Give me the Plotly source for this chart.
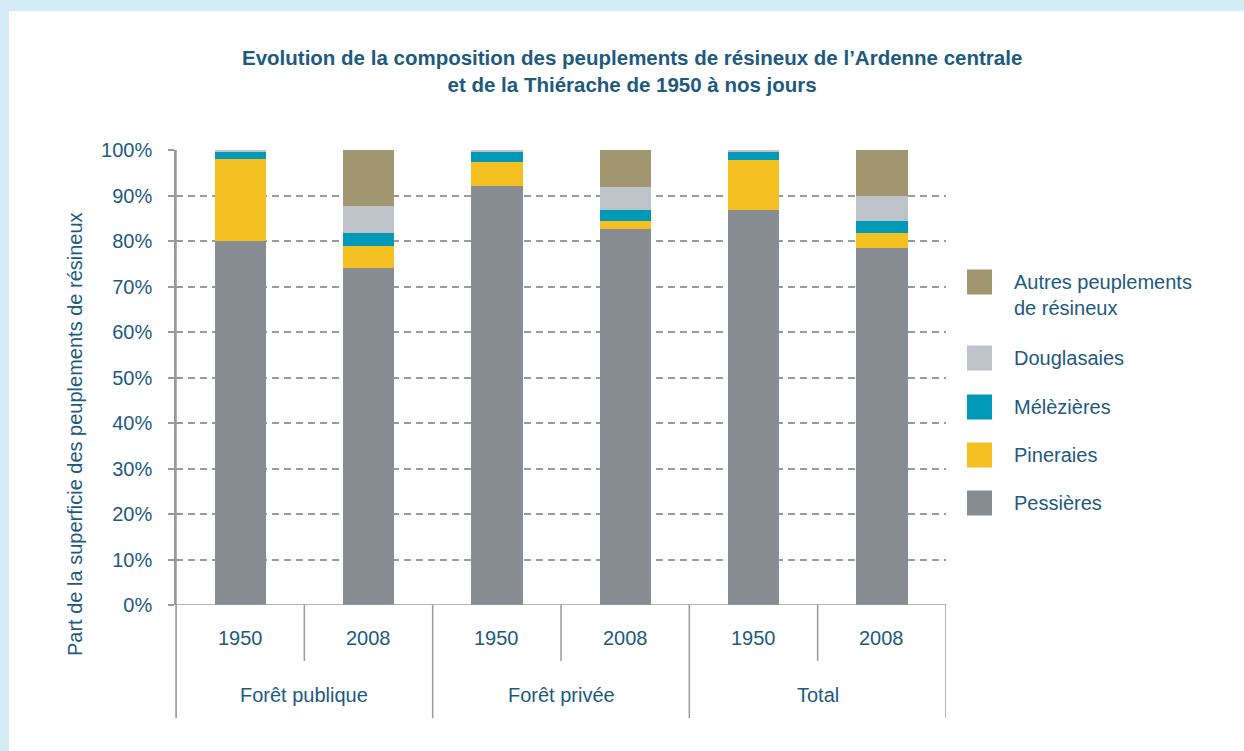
import plotly.graph_objects as go

# Stand composition (% of conifer area)
groups = ["Forêt publique", "Forêt privée", "Total"]
years = ["1950", "2008"]

pessieres = [80.0, 74.0, 92.0, 82.7, 86.9, 78.5]
pineraies = [18.0, 4.9, 5.4, 1.7, 10.8, 3.2]
melezieres = [1.7, 2.8, 2.1, 2.4, 2.0, 2.7]
douglasaies = [0.3, 6.0, 0.5, 5.1, 0.3, 5.5]
autres = [0.0, 12.3, 0.0, 8.1, 0.0, 10.1]

series_names = ["Pessières", "Pineraies", "Mélèzières", "Douglasaies",
                "Autres peuplements<br>de résineux"]
series_values = [pessieres, pineraies, melezieres, douglasaies, autres]
series_colors = ["#878d93", "#f5c022", "#0099b8", "#bec3c9", "#a09670"]

y_ticks = list(range(0, 101, 10))
y_tick_labels = [f"{v}%" for v in y_ticks]

TEXT = "#1d5a7e"
GRID = "#979ba0"
FONT = "Liberation Sans, Arial, sans-serif"
FS = 20

# pixel geometry helpers
W, H = 1244, 751
L, R, T, B = 176, 298, 150, 146
PW, PH = W - L - R, H - T - B


def px_x(px):
    return (px - L) / PW


def px_y(py):
    return (H - B - py) / PH


x_idx = list(range(len(groups) * len(years)))

fig = go.Figure()
for name, vals, col in zip(series_names, series_values, series_colors):
    fig.add_trace(go.Bar(
        x=x_idx, y=vals, name=name, width=0.4,
        marker=dict(color=col, line=dict(width=0)),
        showlegend=False,
    ))

shapes = []
annotations = []

# light blue frame on top and left
shapes.append(dict(type="rect", xref="paper", yref="paper",
                   x0=px_x(0), x1=px_x(W), y0=px_y(11), y1=px_y(0),
                   fillcolor="#d4edf4", line=dict(width=0), layer="above"))
shapes.append(dict(type="rect", xref="paper", yref="paper",
                   x0=px_x(0), x1=px_x(9), y0=px_y(H), y1=px_y(0),
                   fillcolor="#d4edf4", line=dict(width=0), layer="above"))

# baseline
shapes.append(dict(type="line", xref="paper", yref="y",
                   x0=px_x(170), x1=1, y0=0, y1=0,
                   line=dict(color=GRID, width=1.5), layer="above"))

# category dividers
short_y = px_y(661)
long_y = px_y(718)
n = len(x_idx)
for i in range(n + 1):
    xv = i - 0.5
    bottom = long_y if i % len(years) == 0 else short_y
    shapes.append(dict(type="line", xref="x", yref="paper",
                       x0=xv, x1=xv, y0=0, y1=bottom,
                       line=dict(color=GRID, width=1.5)))
# y axis line extended down through the label rows
shapes.append(dict(type="line", xref="paper", yref="paper",
                   x0=0, x1=0, y0=long_y, y1=1,
                   line=dict(color=GRID, width=1.5), layer="above"))

# year and group labels
for gi, g in enumerate(groups):
    for yi, yr in enumerate(years):
        annotations.append(dict(x=gi * len(years) + yi, y=px_y(638),
                                xref="x", yref="paper", text=yr,
                                showarrow=False, xanchor="center",
                                yanchor="middle",
                                font=dict(size=FS, color=TEXT, family=FONT)))
    annotations.append(dict(x=gi * len(years) + (len(years) - 1) / 2,
                            y=px_y(695), xref="x", yref="paper", text=g,
                            showarrow=False, xanchor="center",
                            yanchor="middle",
                            font=dict(size=FS, color=TEXT, family=FONT)))

# legend (top entry first)
legend_centers = [503, 455, 407, 358, 282]
for name, col, cy in zip(series_names, series_colors, legend_centers):
    shapes.append(dict(type="rect", xref="paper", yref="paper",
                       x0=px_x(967), x1=px_x(992),
                       y0=px_y(cy + 12.5), y1=px_y(cy - 12.5),
                       fillcolor=col, line=dict(width=0)))
    annotations.append(dict(x=px_x(1012), y=px_y(cy - 13), xref="paper",
                            yref="paper", text=name, showarrow=False,
                            xanchor="left", yanchor="top", align="left",
                            font=dict(size=FS, color=TEXT, family=FONT)))

# y axis title
annotations.append(dict(x=px_x(75), y=px_y(434), xref="paper", yref="paper",
                        text="Part de la superficie des peuplements de résineux",
                        textangle=-90, showarrow=False,
                        xanchor="center", yanchor="middle",
                        font=dict(size=FS, color=TEXT, family=FONT)))

# chart title
annotations.append(dict(x=px_x(632), y=px_y(71), xref="paper", yref="paper",
                        text="<b>Evolution de la composition des peuplements de résineux de l’Ardenne centrale<br>"
                             "et de la Thiérache de 1950 à nos jours</b>",
                        showarrow=False, align="center",
                        xanchor="center", yanchor="middle",
                        font=dict(size=20.5, color=TEXT, family=FONT)))

fig.update_layout(
    width=W, height=H,
    margin=dict(l=L, r=R, t=T, b=B, pad=0),
    paper_bgcolor="white", plot_bgcolor="white",
    barmode="stack", bargap=0,
    showlegend=False,
    font=dict(family=FONT, color=TEXT, size=FS),
    xaxis=dict(range=[-0.5, n - 0.5], showticklabels=False, showgrid=False,
               zeroline=False, showline=False, ticks=""),
    yaxis=dict(range=[0, 100], tickmode="array", tickvals=y_ticks,
               ticktext=y_tick_labels, showgrid=True, gridcolor=GRID,
               gridwidth=1.5, griddash="7px,5px", zeroline=False,
               showline=True, linecolor=GRID, linewidth=1.5,
               ticks="outside", ticklen=6, tickcolor=GRID, tickwidth=1.5,
               ticklabelstandoff=12,
               tickfont=dict(size=FS, color=TEXT, family=FONT)),
    shapes=shapes,
    annotations=annotations,
)

fig.write_html("out.html")
